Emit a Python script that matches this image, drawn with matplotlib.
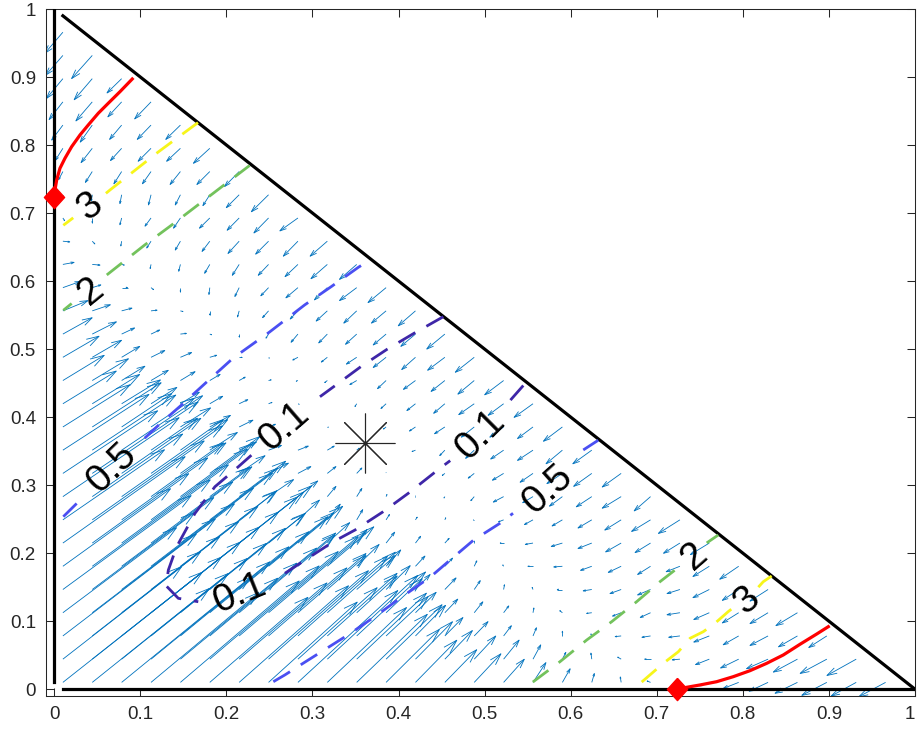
import numpy as np
import matplotlib
matplotlib.use('Agg')
import matplotlib.pyplot as plt
from matplotlib.collections import LineCollection
from matplotlib.transforms import ScaledTranslation

plt.rcParams['font.family'] = ['Liberation Sans', 'DejaVu Sans']

# quiver grid (same in x and y), only nodes with i+j <= 28 lie inside the simplex
grid = np.linspace(0.01, 1, 30)

# arrow components in 1e-3 data units, row j = y index, columns i = 0..min(j, 28-j)
# the other half of the triangle is the mirror image (x<->y, u<->v)
U_UP = [
    [162],
    [138, 150],
    [155, 126, 138],
    [132, 143, 114, 126],
    [149, 119, 131, 102, 114],
    [125, 137, 107, 119, 90, 102],
    [142, 112, 124, 95, 107, 78, 75],
    [118, 130, 100, 112, 83, 79, 42, 50],
    [135, 105, 117, 87, 84, 46, 54, 29, 23],
    [110, 123, 92, 89, 50, 58, 30, 23, 15, 10],
    [100, 97, 94, 54, 50, 32, 20, 15, 12, 8, 3],
    [78, 80, 58, 50, 35, 24, 16, 8, 3, 1, 0, -3],
    [62, 55, 45, 30, 22, 15, 10, 4, 1, 0, -2, -6, -10],
    [48, 42, 27, 20, 17, 12, 7, 3, -2, -3, -8, -10, -14, -16],
    [42, 34, 21, 16, 13, 8, 3, 0, -6, -7, -12, -15, -16, -20, -22],
    [34, 28, 15, 10, 7, 2, 0, -3, -8, -10, -13, -15, -17, -21],
    [29, 21, 12, 7, 3, 0, -2, -7, -9, -13, -15, -17, -20],
    [20, 10, 7, 3, 0, -1, -5, -9, -14, -15, -20, -21],
    [13, 9, 3, -1, -2, -6, -8, -12, -15, -19, -20],
    [8, 3, -1, -5, -6, -9, -13, -15, -17, -20],
    [2, 0, -2, -7, -8, -12, -14, -17, -21],
    [0, -1, -2, -3, -6, -8, -15, -20],
    [-5, -8, -9, -10, -12, -15, -17],
    [-9, -13, -13, -15, -16, -19],
    [-13, -14, -14, -16, -17],
    [-16, -19, -16, -19],
    [-19, -21, -17],
    [-20, -24],
    [-21],
]
V_UP = [
    [162],
    [136, 150],
    [150, 124, 138],
    [125, 138, 112, 126],
    [138, 113, 126, 100, 114],
    [114, 127, 101, 115, 88, 102],
    [127, 102, 115, 90, 103, 77, 75],
    [103, 116, 91, 104, 78, 76, 41, 50],
    [116, 92, 104, 79, 78, 43, 52, 25, 23],
    [92, 105, 81, 79, 45, 54, 26, 15, 10, 10],
    [82, 81, 80, 47, 45, 26, 12, 7, 6, 6, 3],
    [62, 65, 49, 42, 28, 17, 10, 4, 1, 0, 0, -3],
    [48, 43, 35, 24, 17, 11, 6, 2, 0, 0, -4, -7, -10],
    [37, 32, 21, 15, 13, 9, 5, 1, -1, -3, -6, -12, -13, -16],
    [31, 25, 16, 10, 7, 3, 0, -1, -4, -7, -10, -15, -18, -19, -22],
    [24, 18, 9, 6, 1, -1, -4, -6, -12, -13, -15, -16, -18, -22],
    [15, 9, 4, 1, -1, -6, -9, -10, -12, -15, -18, -18, -22],
    [9, 4, 0, -3, -6, -10, -13, -12, -15, -18, -19, -22],
    [3, -1, -1, -6, -10, -13, -16, -16, -18, -21, -22],
    [-1, -4, -7, -10, -13, -15, -18, -19, -22, -22],
    [-4, -7, -10, -12, -15, -15, -18, -22, -19],
    [-3, -9, -13, -15, -15, -16, -19, -25],
    [-12, -16, -18, -18, -19, -19, -22],
    [-18, -21, -18, -19, -19, -22],
    [-22, -25, -21, -21, -21],
    [-26, -28, -22, -25],
    [-29, -31, -21],
    [-29, -34],
    [-31],
]

# contour lines, NaN marks the gap left for the inline label
c3a_x = [0.0105, 0.022, np.nan, 0.060, 0.0648, 0.121, 0.167]
c3a_y = [0.682, 0.693, np.nan, 0.729, 0.734, 0.790, 0.833]
c3b_x = [0.6825, 0.7076, 0.725, 0.7386, 0.754, 0.7676, 0.783, 0.789, np.nan, 0.818, 0.8237, 0.8335]
c3b_y = [0.0105, 0.038, 0.055, 0.0748, 0.0845, 0.0969, 0.114, 0.120, np.nan, 0.150, 0.158, 0.1664]
c2a_x = [0.0105, 0.0202, np.nan, 0.061, 0.078, 0.105, 0.136, 0.167, 0.227]
c2a_y = [0.557, 0.567, np.nan, 0.609, 0.626, 0.653, 0.682, 0.712, 0.770]
c2b_x = [0.556, 0.5875, 0.6186, 0.6476, 0.6766, 0.7037, 0.721, 0.727, np.nan, 0.758, 0.7715]
c2b_y = [0.0105, 0.0404, 0.0723, 0.0992, 0.1286, 0.158, 0.175, 0.181, np.nan, 0.215, 0.2267]
c05a_x = [0.0105, 0.026, np.nan, 0.105, 0.121, 0.148, 0.18, 0.208, 0.25, 0.291, 0.322, 0.353, 0.368]
c05a_y = [0.2536, 0.273, np.nan, 0.369, 0.388, 0.418, 0.455, 0.487, 0.525, 0.565, 0.592, 0.620, 0.632]
c05b_x = [0.2545, 0.268, 0.289, 0.314, 0.344, 0.375, 0.402, 0.437, 0.46, 0.487, 0.5178, 0.533, np.nan, 0.6146, 0.632]
c05b_y = [0.011, 0.021, 0.038, 0.058, 0.082, 0.109, 0.134, 0.165, 0.19, 0.219, 0.2439, 0.2586, np.nan, 0.3517, 0.366]
c01_x = [0.452, 0.419, 0.387, 0.356, 0.326, 0.3087, np.nan,
         0.229, 0.2138, 0.1867, 0.1635, 0.1422, 0.1325, 0.1300, 0.1441, 0.1673, np.nan,
         0.268, 0.2855, 0.3242, 0.3494, 0.3822, 0.4113, 0.4481, 0.460, np.nan, 0.530, 0.5488]
c01_y = [0.5476, 0.524, 0.500, 0.474, 0.446, 0.430, np.nan,
         0.344, 0.327, 0.2977, 0.2586, 0.2095, 0.175, 0.152, 0.1336, 0.1286, np.nan,
         0.1704, 0.185, 0.2168, 0.234, 0.261, 0.288, 0.3248, 0.336, np.nan, 0.425, 0.452]

lab_text = ['3', '3', '2', '2', '0.5', '0.5', '0.1', '0.1', '0.1']
lab_x = [0.0415, 0.8045, 0.0434, 0.7444, 0.0676, 0.574, 0.2671, 0.2158, 0.4955]
lab_y = [0.7093, 0.131, 0.5844, 0.1948, 0.3248, 0.294, 0.386, 0.140, 0.3737]
lab_rot = [37, 41, 39, 41, 44, 42, 41, 22, 45]

# red curves from the boundary equilibria
red1_x = [0.0, 0.0008, 0.0028, 0.0066, 0.0124, 0.0202, 0.0299, 0.0395, 0.0511, 0.0627, 0.0763, 0.0906]
red1_y = [0.723, 0.7339, 0.7486, 0.7658, 0.7805, 0.7976, 0.8148, 0.8295, 0.8467, 0.8614, 0.8784, 0.8971]
red2_x = [0.7231, 0.7348, 0.7502, 0.7696, 0.7889, 0.8083, 0.8277, 0.847, 0.8664, 0.8858, 0.8993]
red2_y = [0.0, 0.0028, 0.0062, 0.011, 0.0184, 0.0272, 0.038, 0.0503, 0.066, 0.0811, 0.0919]
eq_x, eq_y = 0.3615, 0.3615

blue = (0, 0.447, 0.741)
parula = {'0.1': (0.243, 0.150, 0.660), '0.5': (0.29, 0.31, 0.95),
          '2': (0.45, 0.76, 0.36), '3': (0.97, 0.96, 0.10)}

fig = plt.figure(figsize=(9.17, 7.32), dpi=100)
ax = fig.add_axes([0.0498, 0.0492, 0.9480, 0.9385])
ax.set_xlim(-0.01, 1)
ax.set_ylim(-0.01, 1)

# build full field
U = np.full((30, 30), np.nan)
V = np.full((30, 30), np.nan)
for j, (ur, vr) in enumerate(zip(U_UP, V_UP)):
    for i, (u, v) in enumerate(zip(ur, vr)):
        U[j, i], V[j, i] = u / 1000, v / 1000
        U[i, j], V[i, j] = v / 1000, u / 1000
X, Y = np.meshgrid(grid, grid)
m = ~np.isnan(U)
xt, yt, u, v = X[m], Y[m], U[m], V[m]

# matlab style line arrows, head computed in screen space
P0 = ax.transData.transform(np.c_[xt, yt])
P1 = ax.transData.transform(np.c_[xt + u, yt + v])
d = P1 - P0
L = np.hypot(d[:, 0], d[:, 1])
L[L == 0] = 1e-9
e = d / L[:, None]
nrm = np.c_[-e[:, 1], e[:, 0]]
hl = np.minimum(0.3 * L, 14.0)[:, None]
W1 = P1 - e * hl + nrm * 0.3 * hl
W2 = P1 - e * hl - nrm * 0.3 * hl
inv = ax.transData.inverted()
H = inv.transform(P1)
W1, W2 = inv.transform(W1), inv.transform(W2)
segs = []
for k in range(len(xt)):
    segs.append([(xt[k], yt[k]), tuple(H[k])])
    segs.append([tuple(W1[k]), tuple(H[k]), tuple(W2[k])])
ax.add_collection(LineCollection(segs, colors=[blue], linewidths=0.6, zorder=2))

# simplex edges
ax.plot([0, 0], [0.01, 1], color='k', lw=2.3, zorder=3)
ax.plot([0.01, 1], [0, 0], color='k', lw=2.3, zorder=3)
ax.plot([0.01, 1], [0.99, 0], color='k', lw=2.3, zorder=3)

dash = (0, (7, 4.6))
for xs, ys, lev in [(c01_x, c01_y, '0.1'), (c05a_x, c05a_y, '0.5'), (c05b_x, c05b_y, '0.5'),
                    (c2a_x, c2a_y, '2'), (c2b_x, c2b_y, '2'), (c3a_x, c3a_y, '3'), (c3b_x, c3b_y, '3')]:
    ax.plot(xs, ys, color=parula[lev], lw=2.0, linestyle=dash, zorder=4)

for t, x, y, r in zip(lab_text, lab_x, lab_y, lab_rot):
    ax.text(x, y, t, fontsize=28, rotation=r, rotation_mode='anchor',
            ha='center', va='center', color='k', zorder=6)

ax.plot(red1_x, red1_y, color='r', lw=2.3, zorder=5)
ax.plot(red2_x, red2_y, color='r', lw=2.3, zorder=5)
diamond = [(0, 1.1), (1, 0), (0, -1.1), (-1, 0), (0, 1.1)]
ax.plot([0, 0.7231], [0.723, 0], linestyle='none', marker=diamond, ms=16,
        color='r', zorder=7, clip_on=False)
ax.plot([eq_x], [eq_y], linestyle='none', marker=(8, 2, 0), ms=43, mew=0.8,
        color=(0.15, 0.15, 0.15), zorder=7)

ticks = np.round(np.arange(0, 1.01, 0.1), 1)
labels = ['0'] + ['%.1f' % t for t in ticks[1:-1]] + ['1']
ax.set_xticks(ticks)
ax.set_xticklabels(labels)
ax.set_yticks(ticks)
ax.set_yticklabels(labels)
ax.tick_params(direction='in', top=True, right=True, length=6, width=0.75,
               colors=(0.15, 0.15, 0.15), labelsize=13.5, pad=7)
last = ax.get_xticklabels()[-1]
last.set_transform(last.get_transform() + ScaledTranslation(-4 / 72, 0, fig.dpi_scale_trans))
for s in ax.spines.values():
    s.set_linewidth(0.75)
    s.set_color((0.15, 0.15, 0.15))

fig.savefig('out.png', dpi=100)
